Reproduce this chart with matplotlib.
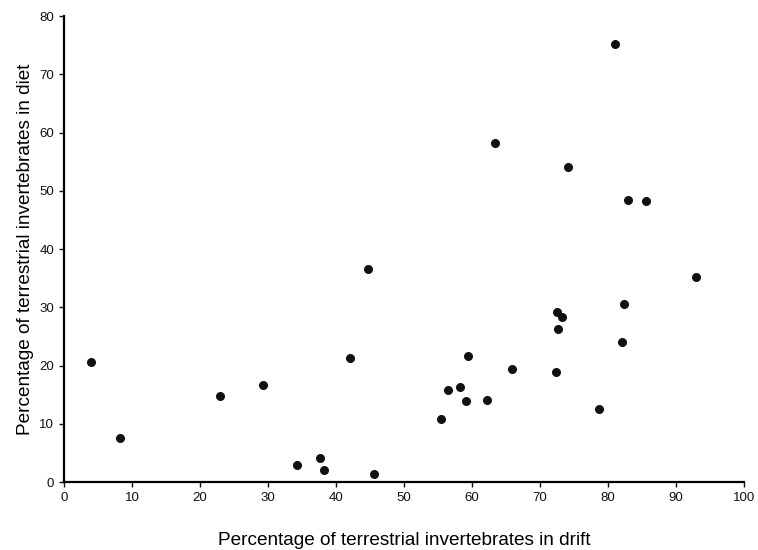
import matplotlib
matplotlib.use("Agg")
import matplotlib.pyplot as plt

plt.rcParams['font.family'] = ['Liberation Sans', 'DejaVu Sans']

# % terrestrial invertebrates in drift (x) and in diet (y)
drift = [4.0, 8.3, 22.9, 29.2, 34.2, 37.7, 38.2, 42.0, 44.7, 45.6,
         55.4, 56.5, 58.2, 59.1, 59.4, 62.2, 63.4, 65.9, 72.4, 72.5,
         72.6, 73.2, 74.1, 78.7, 81.0, 82.1, 82.4, 82.9, 85.6, 92.9]
diet = [20.6, 7.6, 14.7, 16.6, 2.9, 4.2, 2.0, 21.3, 36.5, 1.4,
        10.8, 15.8, 16.3, 13.9, 21.6, 14.1, 58.2, 19.4, 18.9, 29.2,
        26.3, 28.3, 54.1, 12.5, 75.2, 24.0, 30.6, 48.4, 48.2, 35.2]

fig = plt.figure(figsize=(7.58, 5.5), dpi=100)
ax = fig.add_axes([0.0844, 0.1236, 0.897, 0.8473])

ax.scatter(drift, diet, s=30, color='#111111', zorder=3)

ax.set_xlim(0, 100)
ax.set_ylim(0, 80)
ax.set_xticks(range(0, 101, 10))
ax.set_yticks(range(0, 81, 10))
ax.spines['top'].set_visible(False)
ax.spines['right'].set_visible(False)
ax.spines['left'].set_linewidth(1.6)
ax.spines['bottom'].set_linewidth(1.6)
ax.tick_params(direction='out', length=3.5, width=1, labelsize=9.5, colors='#111111')

ax.set_xlabel('Percentage of terrestrial invertebrates in drift', fontsize=13.7, labelpad=20)
ax.set_ylabel('Percentage of terrestrial invertebrates in diet', fontsize=13.7, labelpad=4)

plt.savefig('out.png', dpi=100)
